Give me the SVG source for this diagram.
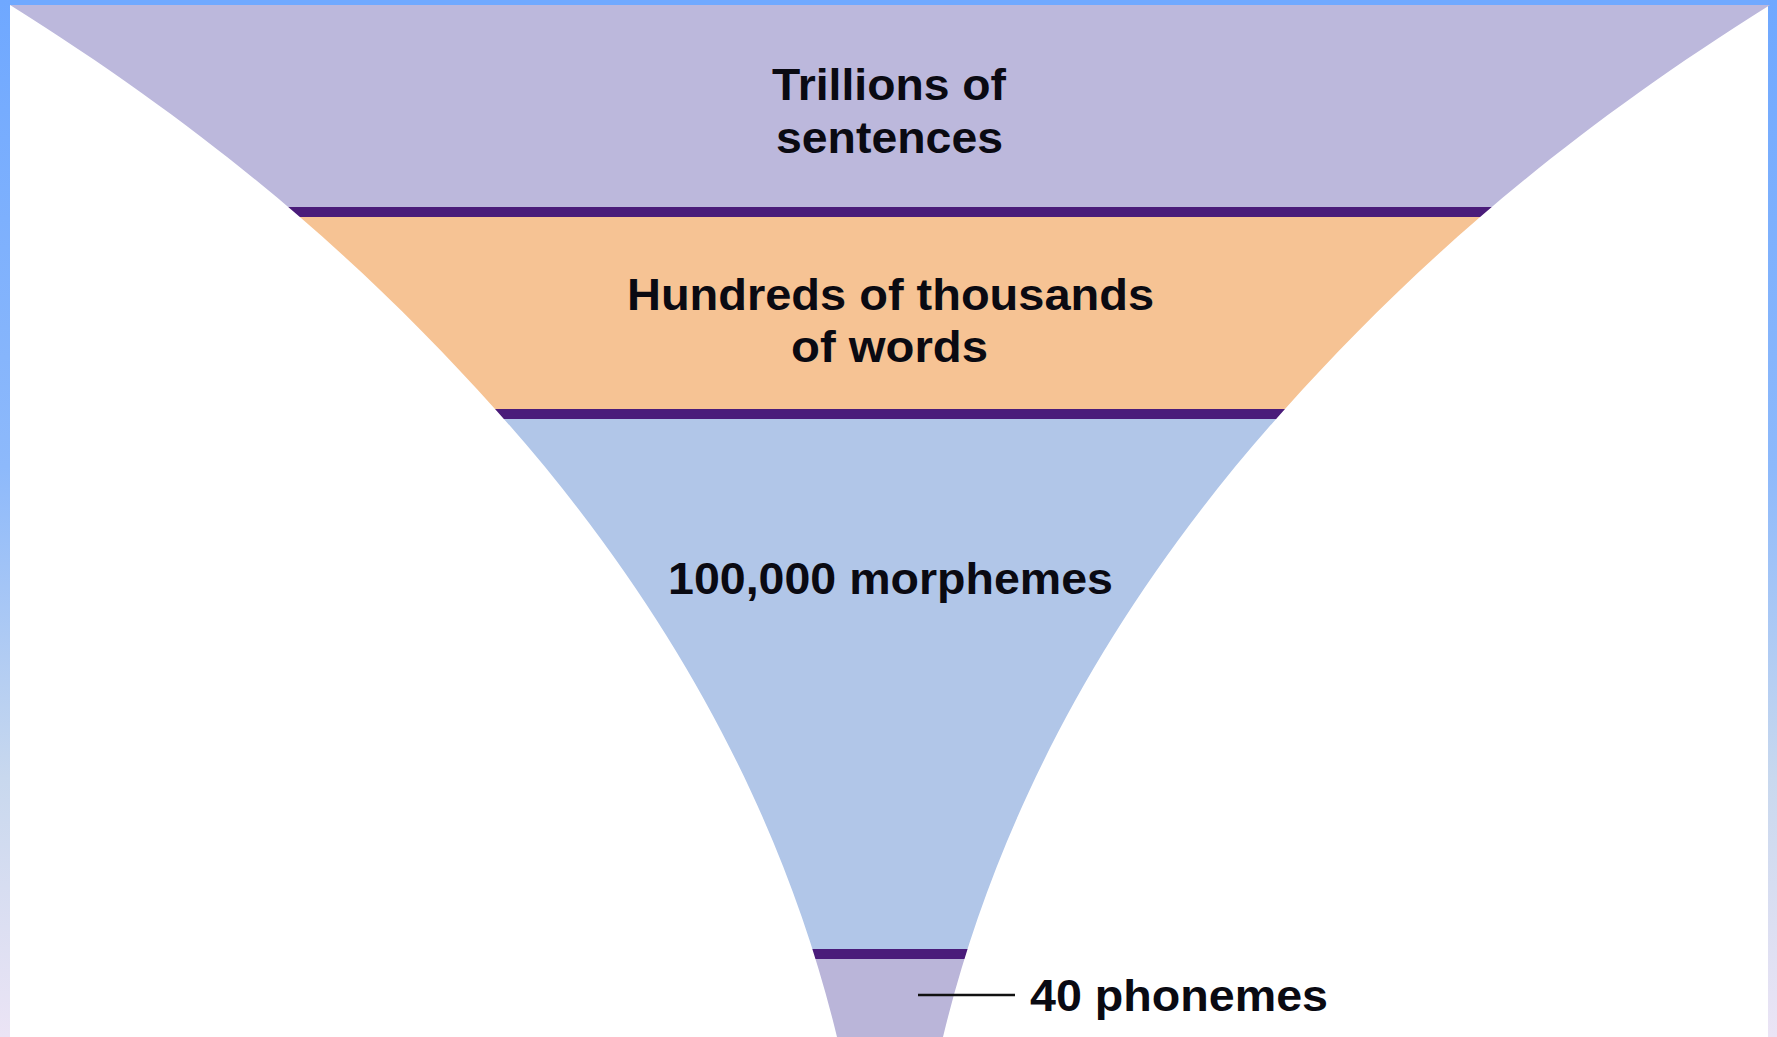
<svg xmlns="http://www.w3.org/2000/svg" width="1777" height="1037" viewBox="0 0 1777 1037">
  <defs>
    <linearGradient id="frameGrad" x1="0" y1="0" x2="0" y2="1">
      <stop offset="0" stop-color="#6fa8ff"/>
      <stop offset="0.45" stop-color="#8db9fb"/>
      <stop offset="0.75" stop-color="#c8d8ee"/>
      <stop offset="1" stop-color="#ebe4f5"/>
    </linearGradient>
    <clipPath id="funnelClip">
      <path d="M10,5 L1770,5 C1554,140 1406,274 1285,409 C1097,618 992,834 943,1037 L837,1037 C788,834 683,618 495,409 C374,274 226,140 10,5 Z"/>
    </clipPath>
    <style>
      .lbl { font-family: "Liberation Sans", Arial, Helvetica, sans-serif; font-weight: bold; font-size: 45px; fill: #0a0a12; }
      .mid { text-anchor: middle; }
      .band { fill: #4a1c7a; }
    </style>
  </defs>

  <rect x="0" y="0" width="1777" height="1037" fill="#ffffff"/>
  <rect x="0" y="0" width="1777" height="5" fill="#70a9ff"/>
  <rect x="0" y="0" width="10" height="1037" fill="url(#frameGrad)"/>
  <rect x="1768" y="0" width="9" height="1037" fill="url(#frameGrad)"/>

  <g id="funnel" clip-path="url(#funnelClip)">
    <g id="sentences">
      <rect x="0" y="5" width="1777" height="202" fill="#bcb8dc"/>
    </g>
    <g id="words">
      <rect x="0" y="217" width="1777" height="192" fill="#f6c394"/>
    </g>
    <g id="morphemes">
      <rect x="0" y="419" width="1777" height="530" fill="#b1c6e8"/>
    </g>
    <g id="phonemes">
      <rect x="0" y="959" width="1777" height="78" fill="#bab5d9"/>
    </g>
    <g id="dividers">
      <rect class="band" x="0" y="207" width="1777" height="10"/>
      <rect class="band" x="0" y="409" width="1777" height="10"/>
      <rect class="band" x="0" y="949" width="1777" height="10"/>
    </g>
  </g>

  <g id="labels">
    <text class="lbl mid" x="889" y="100" textLength="234" lengthAdjust="spacingAndGlyphs">Trillions of</text>
    <text class="lbl mid" x="889.5" y="153" textLength="227" lengthAdjust="spacingAndGlyphs">sentences</text>
    <text class="lbl mid" x="890.5" y="310" textLength="527" lengthAdjust="spacingAndGlyphs">Hundreds of thousands</text>
    <text class="lbl mid" x="889.5" y="362" textLength="197" lengthAdjust="spacingAndGlyphs">of words</text>
    <text class="lbl mid" x="890.5" y="594" textLength="445" lengthAdjust="spacingAndGlyphs">100,000 morphemes</text>
    <text class="lbl" x="1030" y="1011" textLength="298" lengthAdjust="spacingAndGlyphs">40 phonemes</text>
  </g>

  <g id="connectors">
    <line x1="918" y1="995" x2="1015" y2="995" stroke="#111111" stroke-width="2.5"/>
  </g>
</svg>
